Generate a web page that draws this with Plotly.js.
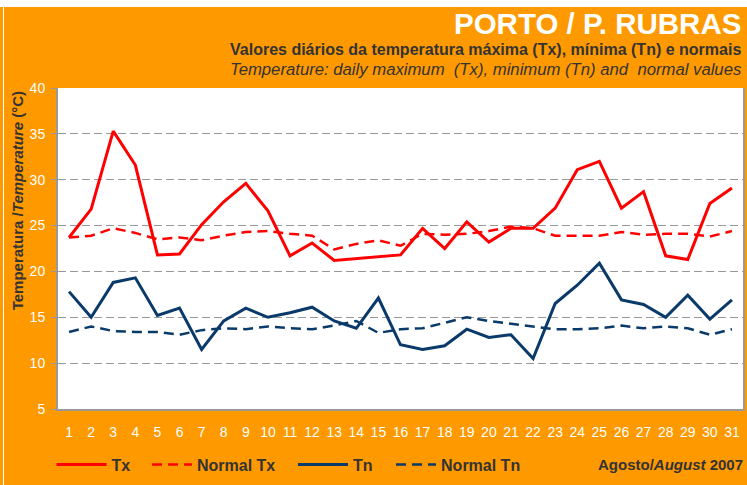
<!DOCTYPE html>
<html>
<head>
<meta charset="utf-8">
<script src="https://cdn.plot.ly/plotly-3.0.1.min.js"></script>
<style>
html,body{margin:0;padding:0;background:#fff;}
#wrap{position:relative;width:747px;height:485px;}
#chart{width:747px;height:485px;}
#topstrip{position:absolute;left:0;top:0;width:747px;height:7px;background:#fff;pointer-events:none;}
#leftline{position:absolute;left:3px;top:0;width:1px;height:485px;background:#fff;pointer-events:none;}
</style>
</head>
<body>
<div id="wrap">
<div id="chart"></div>
<div id="topstrip"></div>
<div id="leftline"></div>
</div>
<script>
const days = [1,2,3,4,5,6,7,8,9,10,11,12,13,14,15,16,17,18,19,20,21,22,23,24,25,26,27,28,29,30,31];
const dayLabels = days.map(String);
const tx = [23.7,26.8,35.3,31.6,21.8,21.9,25.1,27.6,29.6,26.6,21.7,23.1,21.2,21.4,21.6,21.8,24.7,22.5,25.4,23.2,24.7,24.7,26.9,31.1,32.0,26.9,28.7,21.7,21.3,27.4,29.1];
const normalTx = [23.7,23.9,24.7,24.2,23.5,23.7,23.4,23.9,24.3,24.4,24.1,23.9,22.4,23.0,23.4,22.8,24.1,24.0,24.1,24.4,24.9,24.7,23.9,23.9,23.9,24.3,24.0,24.1,24.1,23.8,24.4];
const tn = [17.8,15.0,18.8,19.3,15.2,16.0,11.5,14.6,16.0,15.0,15.5,16.1,14.6,13.8,17.1,12.0,11.5,11.9,13.7,12.8,13.1,10.5,16.5,18.5,20.9,16.9,16.4,15.0,17.4,14.8,16.9];
const normalTn = [13.4,14.0,13.5,13.4,13.4,13.1,13.6,13.8,13.7,14.0,13.8,13.7,14.1,14.6,13.3,13.7,13.8,14.4,15.0,14.6,14.3,14.0,13.7,13.7,13.8,14.1,13.8,14.0,13.8,13.1,13.7];
const yTicks = [5,10,15,20,25,30,35,40];

const RED = '#ff0000';
const NAVY = '#0a3a6a';
const DARK = '#333333';
const NARROW = '"Liberation Sans Narrow", "Arial Narrow", "Liberation Sans", Arial, sans-serif';
const SANS = '"Liberation Sans", Arial, Helvetica, sans-serif';

const traces = [
  {x: days, y: tx, name: 'Tx', mode: 'lines', line: {color: RED, width: 3}, legend: 'legend'},
  {x: days, y: normalTx, name: 'Normal Tx', mode: 'lines', line: {color: RED, width: 2.5, dash: '10px,6px'}, legend: 'legend2'},
  {x: days, y: tn, name: 'Tn', mode: 'lines', line: {color: NAVY, width: 3}, legend: 'legend3'},
  {x: days, y: normalTn, name: 'Normal Tn', mode: 'lines', line: {color: NAVY, width: 2.5, dash: '10px,6px'}, legend: 'legend4'}
];

const legFont = {family: NARROW, size: 16, color: DARK, weight: 'bold'};
function leg(x, w){
  return {x: x, y: -0.173, xanchor: 'left', yanchor: 'middle', orientation: 'h',
          bgcolor: 'rgba(0,0,0,0)', font: legFont, itemwidth: w, tracegroupgap: 0};
}

const layout = {
  width: 747, height: 485,
  paper_bgcolor: '#ff9900',
  plot_bgcolor: '#ffffff',
  margin: {l: 58, r: 4, t: 88, b: 73, pad: 0},
  showlegend: true,
  legend: leg(-0.0095, 50),
  legend2: leg(0.1299, 40),
  legend3: leg(0.3430, 50),
  legend4: leg(0.4862, 40),
  xaxis: {
    range: [0.5, 31.5], tickmode: 'array', tickvals: days, ticktext: dayLabels,
    showgrid: false, zeroline: false, showline: true, linecolor: '#999999', linewidth: 2,
    ticks: '', ticklabelstandoff: 9,
    tickfont: {family: NARROW, size: 14, color: '#ffffff'}, fixedrange: true
  },
  yaxis: {
    range: [5, 40], tickmode: 'array', tickvals: yTicks,
    showgrid: true, gridcolor: '#999999', gridwidth: 1, griddash: '8px,4px',
    zeroline: false, showline: true, mirror: true, linecolor: '#999999', linewidth: 2,
    ticks: 'outside', ticklen: 5, tickcolor: '#999999', tickwidth: 1,
    ticklabelstandoff: 3,
    tickfont: {family: NARROW, size: 14, color: '#ffffff'}, fixedrange: true
  },
  annotations: [
    {text: '<b>PORTO / P. RUBRAS</b>', xref: 'paper', yref: 'paper', x: 1, y: 1.2021,
     xanchor: 'right', yanchor: 'middle', showarrow: false,
     font: {family: SANS, size: 29.5, color: '#ffffff'}},
    {text: '<b>Valores diários da temperatura máxima (Tx), mínima (Tn) e normais</b>', xref: 'paper', yref: 'paper', x: 1, y: 1.119,
     xanchor: 'right', yanchor: 'middle', showarrow: false,
     font: {family: NARROW, size: 16, color: DARK}},
    {text: '<i>Temperature: daily maximum  (Tx), minimum (Tn) and  normal values</i>', xref: 'paper', yref: 'paper', x: 1, y: 1.058,
     xanchor: 'right', yanchor: 'middle', showarrow: false,
     font: {family: NARROW, size: 16.7, color: DARK}},
    {text: '<b>Temperatura /<i>Temperature</i> (°C)</b>', xref: 'paper', yref: 'paper', x: -0.0599, y: 0.650,
     xanchor: 'center', yanchor: 'middle', textangle: -90, showarrow: false,
     font: {family: NARROW, size: 15, color: DARK}},
    {text: '<b>Agosto/<i>August</i> 2007</b>', xref: 'paper', yref: 'paper', x: 1.0029, y: -0.173,
     xanchor: 'right', yanchor: 'middle', showarrow: false,
     font: {family: NARROW, size: 15, color: DARK}}
  ]
};

Plotly.newPlot('chart', traces, layout, {displayModeBar: false, staticPlot: true});
</script>
</body>
</html>
